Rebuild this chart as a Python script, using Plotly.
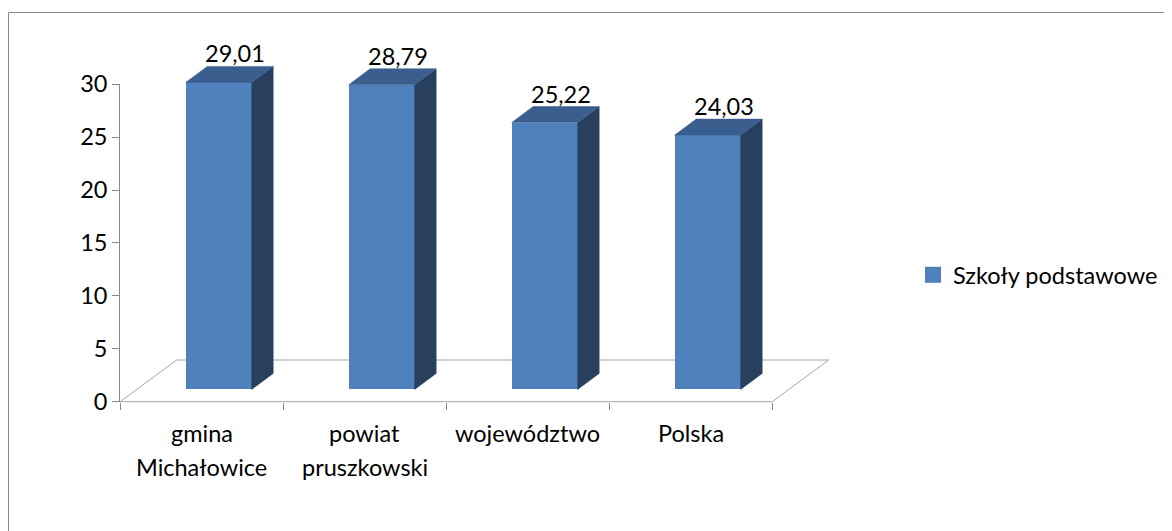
import plotly.graph_objects as go

# ---- data ----
categories = ["gmina\nMichałowice", "powiat\npruszkowski", "województwo", "Polska"]
values = [29.01, 28.79, 25.22, 24.03]
value_labels = ["29,01", "28,79", "25,22", "24,03"]
series_name = "Szkoły podstawowe"
y_ticks = [0, 5, 10, 15, 20, 25, 30]

# ---- geometry (figure pixel mapping) ----
OFF = 8.0               # page body margin
W, H = int(1172 - OFF), int(531 - OFF)
PX_PER_CAT = 163.0
X0_PX = 201.7 - OFF     # pixel x of first category centre (front plane)
Y0_PX = 401.7 - OFF     # pixel y of value 0 (front plane)
PX_PER_UNIT = 10.583

def dxu(px):
    return px / PX_PER_CAT

def dyu(px):
    return px / PX_PER_UNIT

FRONT = "#4F81BD"
SIDE = "#283F5E"
TOP = "#3A5F8E"
GRID = "#A6A6A6"
AXIS = "#888888"
FONT = "Lato"
FS = 23.5

bar_shift_x = dxu(17.0)     # bars sit in middle of floor depth
bar_base = dyu(12.3)
bar_w = dxu(66.0)
depth_x = dxu(21.5)
depth_y = dyu(16.0)
floor_dx = dxu(56.5)
floor_dy = dyu(41.7)

xs = list(range(len(categories)))

fig = go.Figure()

# front faces
fig.add_trace(go.Bar(
    x=[i + bar_shift_x for i in xs], y=values, base=bar_base, width=bar_w,
    marker=dict(color=FRONT, line=dict(width=0)), showlegend=False,
    hoverinfo="skip"))

# side and top faces
for i, v in zip(xs, values):
    xl = i + bar_shift_x - bar_w / 2
    xr = i + bar_shift_x + bar_w / 2
    b, t = bar_base, bar_base + v
    fig.add_trace(go.Scatter(
        x=[xr, xr + depth_x, xr + depth_x, xr, xr],
        y=[b, b + depth_y, t + depth_y, t, b],
        mode="lines", fill="toself", fillcolor=SIDE,
        line=dict(color=SIDE, width=0.5), showlegend=False, hoverinfo="skip"))
    fig.add_trace(go.Scatter(
        x=[xl, xr, xr + depth_x, xl + depth_x, xl],
        y=[t, t, t + depth_y, t + depth_y, t],
        mode="lines", fill="toself", fillcolor=TOP,
        line=dict(color=TOP, width=0.5), showlegend=False, hoverinfo="skip"))

# legend entry
fig.add_trace(go.Scatter(
    x=[None], y=[None], mode="markers", name=series_name,
    marker=dict(symbol="square", size=16, color=FRONT)))

# dummy trace on axis pair 2 (visible value axis)
fig.add_trace(go.Scatter(x=[None], y=[None], xaxis="x2", yaxis="y2",
                         showlegend=False, hoverinfo="skip"))

# floor (below traces)
n = len(categories)
fx0, fx1 = -0.5, n - 0.5
fig.add_shape(type="path", xref="x", yref="y", layer="below",
              path=(f"M{fx0},0 L{fx1},0 L{fx1 + floor_dx},{floor_dy} "
                    f"L{fx0 + floor_dx},{floor_dy} Z"),
              line=dict(color=GRID, width=1), fillcolor="rgba(0,0,0,0)")

# value labels
for i, v, lab in zip(xs, values, value_labels):
    fig.add_annotation(x=i + bar_shift_x + dxu(16.5), y=bar_base + v + depth_y + dyu(13),
                       xref="x", yref="y", text=lab, showarrow=False,
                       yanchor="middle", font=dict(family=FONT, size=FS, color="#000"))

# category labels (two-line with wide line spacing)
for i, c in zip(xs, categories):
    for k, line in enumerate(c.split("\n")):
        fig.add_annotation(x=i, y=-dyu(31.3 + 34 * k), xref="x", yref="y",
                           text=line, showarrow=False, yanchor="middle",
                           font=dict(family=FONT, size=FS, color="#000"))

# outer chart border (only top and left edges are inside the picture)
top_y = 1 - 4.5 / H
left_x = 0.5 / W
fig.add_shape(type="line", xref="paper", yref="paper",
              x0=left_x, x1=1.0, y0=top_y, y1=top_y,
              line=dict(color=AXIS, width=1))
fig.add_shape(type="line", xref="paper", yref="paper",
              x0=left_x, x1=left_x, y0=0.0, y1=top_y,
              line=dict(color=AXIS, width=1))

x_lo = -X0_PX / PX_PER_CAT
x_hi = (W - X0_PX) / PX_PER_CAT
y_lo = (Y0_PX - H) / PX_PER_UNIT
y_hi = Y0_PX / PX_PER_UNIT

ax_left = (X0_PX - 0.5 * PX_PER_CAT) / W
ax_right = (X0_PX + (n - 0.5) * PX_PER_CAT) / W
y2_bot = (H - Y0_PX) / H
y2_top = (H - (Y0_PX - 30 * PX_PER_UNIT)) / H

fig.update_layout(
    width=W, height=H, margin=dict(l=0, r=0, t=0, b=0, pad=0, autoexpand=False),
    paper_bgcolor="white", plot_bgcolor="rgba(0,0,0,0)",
    font=dict(family=FONT, size=FS, color="#000"),
    xaxis=dict(range=[x_lo, x_hi], domain=[0, 1], visible=False, fixedrange=True,
               automargin=False),
    yaxis=dict(range=[y_lo, y_hi], domain=[0, 1], visible=False, fixedrange=True,
               automargin=False),
    xaxis2=dict(range=[-0.5, n - 0.5], domain=[ax_left, ax_right], anchor="y2",
                tickvals=[k - 0.5 for k in range(n + 1)], ticks="outside",
                ticklen=7, tickcolor=AXIS, showticklabels=False, automargin=False,
                showline=False, showgrid=False, zeroline=False, fixedrange=True),
    yaxis2=dict(range=[0, 30], domain=[y2_bot, y2_top], anchor="x2",
                tickvals=y_ticks, ticks="outside", ticklen=7, tickcolor=AXIS,
                showline=True, linecolor=AXIS, linewidth=1, automargin=False,
                showgrid=False, zeroline=False, fixedrange=True,
                tickfont=dict(family=FONT, size=FS, color="#000")),
    showlegend=True,
    legend=dict(x=(913 - OFF) / W, y=(H - (275 - OFF)) / H, xanchor="left",
                yanchor="middle",
                font=dict(family=FONT, size=FS, color="#000"),
                bgcolor="rgba(0,0,0,0)", itemsizing="trace"),
    bargap=0,
)

fig.write_html("out.html")
